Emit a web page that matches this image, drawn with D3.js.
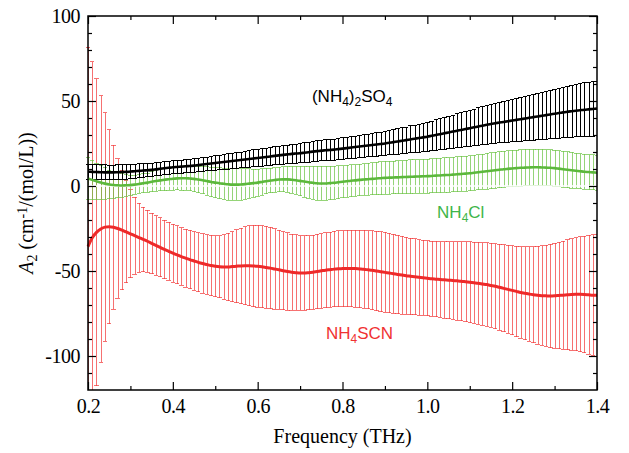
<!DOCTYPE html>
<html>
<head>
<meta charset="utf-8">
<script src="https://cdn.jsdelivr.net/npm/d3@7"></script>
<style>
  body { margin: 0; background: #fff; }
  svg { display: block; }
  .serif { font-family: "Liberation Serif", "DejaVu Serif", Times, serif; }
</style>
</head>
<body>
<svg id="chart"></svg>
<script>
// frequency grid (THz)
const freq = [
  0.20,0.21,0.22,0.23,0.24,0.25,0.26,0.27,0.28,0.29,0.30,0.31,0.32,0.33,0.34,0.35,0.36,0.37,0.38,0.39,
  0.40,0.41,0.42,0.43,0.44,0.45,0.46,0.47,0.48,0.49,0.50,0.51,0.52,0.53,0.54,0.55,0.56,0.57,0.58,0.59,
  0.60,0.61,0.62,0.63,0.64,0.65,0.66,0.67,0.68,0.69,0.70,0.71,0.72,0.73,0.74,0.75,0.76,0.77,0.78,0.79,
  0.80,0.81,0.82,0.83,0.84,0.85,0.86,0.87,0.88,0.89,0.90,0.91,0.92,0.93,0.94,0.95,0.96,0.97,0.98,0.99,
  1.00,1.01,1.02,1.03,1.04,1.05,1.06,1.07,1.08,1.09,1.10,1.11,1.12,1.13,1.14,1.15,1.16,1.17,1.18,1.19,
  1.20,1.21,1.22,1.23,1.24,1.25,1.26,1.27,1.28,1.29,1.30,1.31,1.32,1.33,1.34,1.35,1.36,1.37,1.38,1.39,
  1.40
];

// (NH4)2SO4
const sulfateMean = [
  8.4,8.3,8.2,8.1,8.0,8.0,8.0,8.1,8.2,8.3,8.5,8.7,8.9,9.1,9.3,9.5,9.8,10.1,10.4,10.7,
  11.0,11.2,11.4,11.6,11.8,12.0,12.3,12.6,12.9,13.2,13.5,13.8,14.1,14.4,14.7,15.0,15.3,15.6,15.9,16.2,
  16.5,16.8,17.1,17.4,17.7,18.0,18.3,18.6,18.9,19.1,19.3,19.6,19.9,20.2,20.5,20.8,21.0,21.2,21.4,21.7,
  22.0,22.3,22.6,22.9,23.2,23.5,23.8,24.1,24.4,24.7,25.0,25.4,25.8,26.2,26.6,27.0,27.4,27.8,28.2,28.6,
  29.0,29.5,30.0,30.5,31.0,31.5,32.0,32.5,33.0,33.5,34.0,34.5,35.0,35.5,36.0,36.5,36.9,37.3,37.7,38.1,
  38.5,38.9,39.3,39.7,40.1,40.5,40.9,41.3,41.7,42.1,42.5,42.9,43.3,43.7,44.0,44.3,44.6,44.9,45.1,45.3,
  45.5
];
const sulfateErr = [
  4.5,4.5,4.4,4.4,4.4,4.3,4.3,4.3,4.2,4.2,4.2,4.1,4.1,4.0,4.0,4.0,3.9,3.9,3.8,3.8,
  3.8,3.8,3.8,3.8,3.8,3.9,3.9,4.0,4.0,4.1,4.2,4.3,4.4,4.5,4.6,4.6,4.7,4.8,4.9,5.0,
  5.0,5.1,5.2,5.2,5.3,5.4,5.4,5.5,5.6,5.6,5.7,5.8,5.8,5.9,6.0,6.0,6.1,6.1,6.2,6.2,
  6.3,6.4,6.4,6.5,6.6,6.6,6.7,6.8,6.8,6.9,7.0,7.1,7.3,7.4,7.6,7.7,7.9,8.0,8.2,8.3,
  8.5,8.7,8.9,9.1,9.3,9.5,9.7,9.9,10.1,10.3,10.5,10.7,10.9,11.1,11.3,11.5,11.7,11.9,12.1,12.3,
  12.5,12.7,12.9,13.1,13.3,13.5,13.7,13.9,14.1,14.3,14.5,14.7,14.9,15.0,15.2,15.4,15.5,15.7,15.8,15.9,
  16.0
];

// NH4Cl
const chlorideMean = [
  4.5,3.6,2.8,2.0,1.4,0.9,0.6,0.4,0.3,0.4,0.5,0.8,1.2,1.6,2.0,2.5,2.9,3.3,3.7,4.0,
  4.3,4.5,4.6,4.6,4.4,4.2,3.8,3.4,2.9,2.4,2.0,1.6,1.3,1.0,0.8,0.8,0.9,1.1,1.4,1.7,
  2.0,2.4,2.8,3.2,3.5,3.8,3.9,3.9,3.7,3.4,3.0,2.6,2.2,1.9,1.6,1.5,1.5,1.7,1.9,2.2,
  2.5,2.8,3.1,3.3,3.6,3.8,4.0,4.2,4.4,4.6,4.8,4.9,5.0,5.1,5.2,5.3,5.4,5.5,5.6,5.7,
  5.8,5.9,6.1,6.2,6.4,6.5,6.7,6.9,7.1,7.3,7.5,7.8,8.1,8.4,8.7,9.0,9.3,9.6,9.9,10.1,
  10.3,10.5,10.7,10.8,10.9,11.0,11.0,10.9,10.8,10.7,10.5,10.2,9.9,9.6,9.3,9.0,8.7,8.4,8.2,8.0,
  7.8
];
const chlorideErr = [
  12.5,11.6,10.7,9.9,9.2,8.5,7.9,7.3,6.8,6.3,5.8,5.6,5.5,5.5,5.6,5.8,6.0,6.2,6.4,6.5,
  6.7,6.8,7.0,7.2,7.3,7.5,7.8,8.0,8.3,8.6,8.8,9.0,9.2,9.3,9.3,9.3,9.2,9.0,8.7,8.3,
  8.0,7.7,7.5,7.3,7.3,7.3,7.4,7.6,7.9,8.3,8.7,9.1,9.4,9.7,9.9,10.0,10.0,9.9,9.8,9.6,
  9.5,9.4,9.3,9.2,9.2,9.2,9.3,9.4,9.5,9.6,9.7,9.7,9.7,9.8,9.8,9.8,9.9,9.9,9.9,10.0,
  10.0,10.0,10.1,10.1,10.2,10.2,10.2,10.2,10.3,10.3,10.3,10.3,10.4,10.4,10.5,10.5,10.5,10.5,10.6,10.6,
  10.6,10.6,10.7,10.7,10.7,10.7,10.7,10.7,10.6,10.6,10.6,10.6,10.5,10.5,10.5,10.4,10.4,10.4,10.3,10.3,
  10.3
];

// NH4SCN
const thiocyanateMean = [
  -35.7,-30.5,-27.3,-25.3,-24.2,-24.0,-24.3,-25.0,-25.9,-27.0,-28.1,-29.2,-30.3,-31.4,-32.5,-33.7,-34.9,-36.1,-37.3,-38.4,
  -39.5,-40.5,-41.5,-42.4,-43.3,-44.1,-44.9,-45.6,-46.2,-46.8,-47.2,-47.5,-47.6,-47.6,-47.4,-47.2,-47.0,-46.9,-46.9,-47.0,
  -47.2,-47.5,-47.9,-48.3,-48.8,-49.3,-49.8,-50.3,-50.7,-51.0,-51.2,-51.2,-51.0,-50.7,-50.3,-49.9,-49.5,-49.2,-48.9,-48.7,
  -48.6,-48.5,-48.5,-48.6,-48.8,-49.0,-49.3,-49.6,-50.0,-50.4,-50.8,-51.2,-51.6,-52.0,-52.4,-52.8,-53.1,-53.4,-53.7,-54.0,
  -54.3,-54.6,-54.8,-55.0,-55.2,-55.4,-55.6,-55.8,-56.0,-56.3,-56.6,-56.9,-57.2,-57.6,-58.0,-58.5,-59.0,-59.6,-60.2,-60.8,
  -61.4,-62.0,-62.6,-63.1,-63.6,-64.0,-64.3,-64.5,-64.6,-64.7,-64.6,-64.4,-64.2,-64.0,-63.8,-63.7,-63.7,-63.8,-64.0,-64.2,
  -64.3
];
const thiocyanateErr = [
  117.3,103.5,90.3,78.3,67.2,57.0,48.3,41.0,35.0,30.0,26.0,22.7,20.3,18.9,18.2,17.8,17.5,17.3,17.2,17.1,
  17.0,17.0,17.0,17.1,17.2,17.3,17.4,17.5,17.6,17.7,17.8,18.3,19.0,19.8,20.6,21.4,22.2,22.9,23.5,23.9,
  24.1,24.2,24.1,23.9,23.6,23.3,23.0,22.7,22.4,22.2,22.0,21.9,21.8,21.8,21.8,21.9,22.0,22.1,22.2,22.3,
  22.4,22.5,22.6,22.7,22.8,22.9,23.0,23.2,23.4,23.5,23.5,23.4,23.3,23.1,22.9,22.7,22.5,22.3,22.2,22.1,
  22.1,22.1,22.2,22.3,22.5,22.7,22.9,23.1,23.3,23.5,23.7,23.9,24.1,24.3,24.5,24.7,25.0,25.3,25.6,25.9,
  26.2,26.6,27.0,27.4,27.8,28.3,28.8,29.3,29.8,30.3,30.8,31.3,31.8,32.3,32.8,33.3,33.8,34.3,34.9,35.4,
  36.0
];

const xTicks = [0.2, 0.4, 0.6, 0.8, 1.0, 1.2, 1.4];
const xMinor = [0.3, 0.5, 0.7, 0.9, 1.1, 1.3];
const yTicks = [-100, -50, 0, 50, 100];
const yMinor = [-110, -90, -80, -70, -60, -40, -30, -20, -10, 10, 20, 30, 40, 60, 70, 80, 90];

const width = 629, height = 453;
const margin = { top: 16, right: 32, bottom: 63, left: 88 };
const w = width - margin.left - margin.right;
const h = height - margin.top - margin.bottom;

const svg = d3.select("#chart").attr("width", width).attr("height", height);
const g = svg.append("g").attr("transform", `translate(${margin.left},${margin.top})`);

const x = d3.scaleLinear().domain([0.2, 1.4]).range([0, w]);
const y = d3.scaleLinear().domain([-120, 100]).range([h, 0]);

svg.append("defs").append("clipPath").attr("id", "plot")
  .append("rect").attr("x", -2).attr("width", w + 2).attr("height", h);

const series = [
  { mean: thiocyanateMean, err: thiocyanateErr, bar: "#f23a3a", barOpacity: 0.72, line: "#ee2a2a", lw: 3 },
  { mean: chlorideMean, err: chlorideErr, bar: "#6cc444", barOpacity: 0.72, line: "#5cb83c", lw: 2.6 },
  { mean: sulfateMean, err: sulfateErr, bar: "#000", barOpacity: 1, line: "#000", lw: 2.6 }
];

const plot = g.append("g").attr("clip-path", "url(#plot)");
const cap = 2.2;

series.forEach(s => {
  const pts = freq.map((f, i) => ({ f, m: s.mean[i], e: s.err[i] }));
  const bars = plot.append("g")
    .attr("stroke", s.bar)
    .attr("stroke-opacity", s.barOpacity)
    .attr("stroke-width", 1)
    .attr("shape-rendering", "crispEdges");
  bars.selectAll("line.v").data(pts).join("line").attr("class", "v")
    .attr("x1", d => x(d.f) + 0.5).attr("x2", d => x(d.f) + 0.5)
    .attr("y1", d => y(d.m + d.e)).attr("y2", d => y(d.m - d.e));
  bars.selectAll("line.hi").data(pts).join("line").attr("class", "hi")
    .attr("x1", d => x(d.f) - cap).attr("x2", d => x(d.f) + cap)
    .attr("y1", d => y(d.m + d.e)).attr("y2", d => y(d.m + d.e));
  bars.selectAll("line.lo").data(pts).join("line").attr("class", "lo")
    .attr("x1", d => x(d.f) - cap).attr("x2", d => x(d.f) + cap)
    .attr("y1", d => y(d.m - d.e)).attr("y2", d => y(d.m - d.e));
  s.pts = pts;
});

// white gap along zero
plot.append("line")
  .attr("x1", -2).attr("x2", w)
  .attr("y1", y(0)).attr("y2", y(0))
  .attr("stroke", "#fff").attr("stroke-width", 1.6);

const line = d3.line().x(d => x(d.f)).y(d => y(d.m)).curve(d3.curveMonotoneX);
series.forEach(s => {
  plot.append("path").datum(s.pts)
    .attr("fill", "none")
    .attr("stroke", s.line)
    .attr("stroke-width", s.lw)
    .attr("d", line);
});

// axes: inward ticks on all four sides
const fmtY = d => String(d);
const fmtX = d3.format(".1f");

const axisSpecs = [
  { ax: d3.axisBottom(x).tickValues(xTicks).tickFormat(fmtX).tickSize(-8).tickPadding(9), t: `translate(0,${h})` },
  { ax: d3.axisBottom(x).tickValues(xMinor).tickFormat("").tickSize(-4), t: `translate(0,${h})` },
  { ax: d3.axisTop(x).tickValues(xTicks).tickFormat("").tickSize(-8), t: "" },
  { ax: d3.axisTop(x).tickValues(xMinor).tickFormat("").tickSize(-4), t: "" },
  { ax: d3.axisLeft(y).tickValues(yTicks).tickFormat(fmtY).tickSize(-8).tickPadding(8), t: "" },
  { ax: d3.axisLeft(y).tickValues(yMinor).tickFormat("").tickSize(-4), t: "" },
  { ax: d3.axisRight(y).tickValues(yTicks).tickFormat("").tickSize(-8), t: `translate(${w},0)` },
  { ax: d3.axisRight(y).tickValues(yMinor).tickFormat("").tickSize(-4), t: `translate(${w},0)` }
];
axisSpecs.forEach(a => {
  const ag = g.append("g").attr("transform", a.t).call(a.ax)
    .attr("font-family", null).attr("font-size", null)
    .attr("class", "serif")
    .style("font-size", "20px");
  ag.select(".domain").remove();
  ag.selectAll(".tick line").attr("stroke", "#000").attr("stroke-width", 1.2);
  ag.selectAll(".tick text").attr("fill", "#000").attr("letter-spacing", "-0.5");
});

g.append("rect")
  .attr("width", w).attr("height", h)
  .attr("fill", "none").attr("stroke", "#000").attr("stroke-width", 1.5);

// axis titles
svg.append("text")
  .attr("class", "serif")
  .attr("x", margin.left + w / 2).attr("y", 443)
  .attr("text-anchor", "middle")
  .style("font-size", "20px")
  .text("Frequency (THz)");

const yl = svg.append("text")
  .attr("class", "serif")
  .attr("transform", `translate(33,${margin.top + y(-10)}) rotate(-90)`)
  .attr("text-anchor", "middle")
  .style("font-size", "20px");
yl.append("tspan").style("font-style", "italic").text("A");
yl.append("tspan").attr("baseline-shift", "-25%").style("font-size", "14px").text("2");
yl.append("tspan").text(" (cm");
yl.append("tspan").attr("baseline-shift", "40%").style("font-size", "14px").text("-1");
yl.append("tspan").text("/(mol/L))");

// series labels
function label(parts, f, v, color) {
  const t = g.append("text")
    .attr("x", x(f)).attr("y", y(v))
    .attr("fill", color)
    .style("font-family", "'Liberation Sans', Arial, sans-serif")
    .style("font-size", "17px");
  parts.forEach(p => {
    const sp = t.append("tspan").text(p[0]);
    if (p[1]) sp.attr("baseline-shift", "-30%").style("font-size", "12px");
  });
}
label([["(NH"], ["4", 1], [")"], ["2", 1], ["SO"], ["4", 1]], 0.728, 49.4, "#000");
label([["NH"], ["4", 1], ["Cl"]], 1.023, -18.8, "#3fb54a");
label([["NH"], ["4", 1], ["SCN"]], 0.761, -90, "#f03232");
</script>
</body>
</html>
